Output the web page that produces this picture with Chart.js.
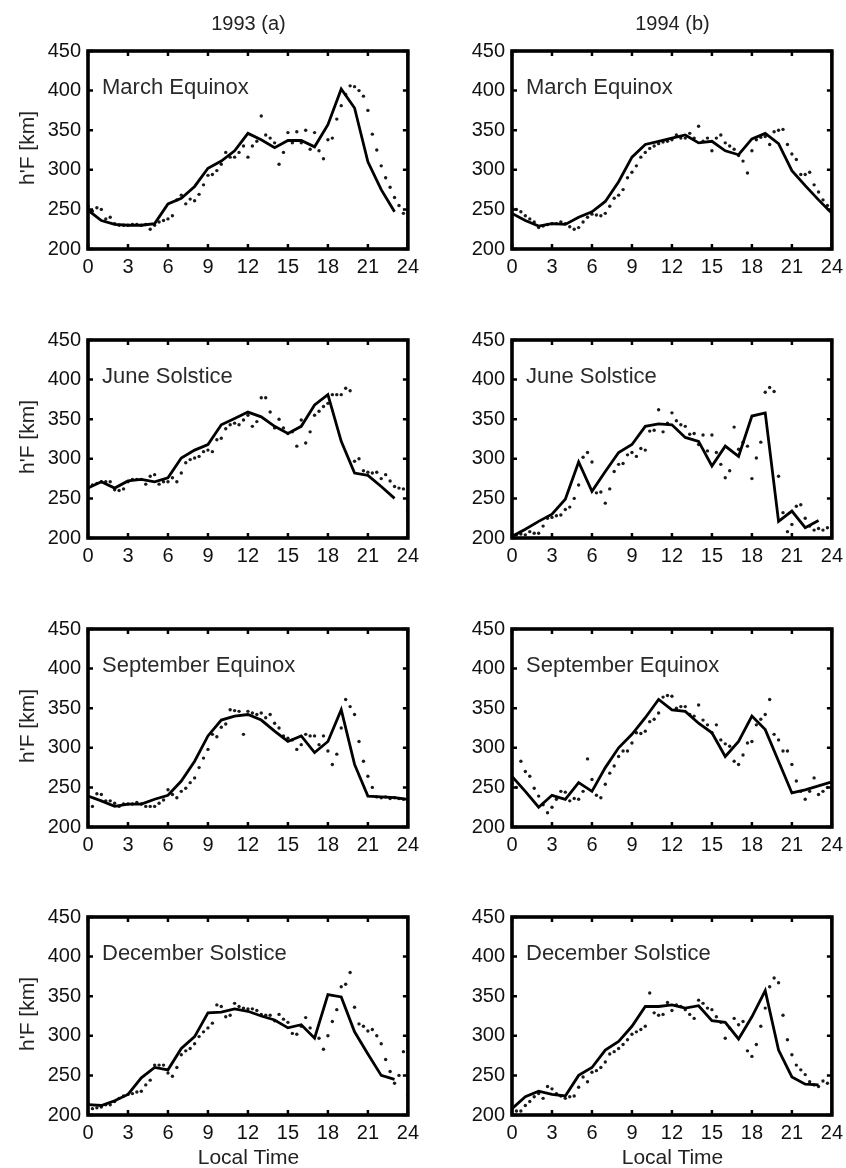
<!DOCTYPE html>
<html>
<head>
<meta charset="utf-8">
<title>h'F local time variation</title>
<script src="https://cdn.jsdelivr.net/npm/chart.js"></script>
<style>
  body { margin: 0; background: #fff; width: 846px; height: 1168px; position: relative; overflow: hidden;
         font-family: 'Liberation Sans', Arial, sans-serif; color: #222; }
  canvas { position: absolute; }
  .txt { position: absolute; white-space: nowrap; transform: translate(-50%, -50%); }
  .panel-name { position: absolute; white-space: nowrap; transform: translate(0, -50%); font-size: 22px; color: #2a2a2a; }
  .ytitle { transform: translate(-50%, -50%) rotate(-90deg); font-size: 21px; }
</style>
</head>
<body>
<script>
// hourly means (solid line), local time 0..24
var hours = [0, 1, 2, 3, 4, 5, 6, 7, 8, 9, 10, 11, 12, 13, 14, 15, 16, 17, 18, 19, 20, 21, 22, 23, 24];
var xTicks = [0, 3, 6, 9, 12, 15, 18, 21, 24];
var yTicks = [200, 250, 300, 350, 400, 450];
var yearTitles = ['1993 (a)', '1994 (b)'];
var seasonNames = ['March Equinox', 'June Solstice', 'September Equinox', 'December Solstice'];

var mar93Line = [249, 236, 231, 230, 230, 232, 257, 264, 279, 302, 311, 324, 346, 338, 328, 337, 337, 329, 357, 402, 378, 310, 275, 247, null];
var jun93Line = [263, 271, 263, 272, 274, 271, 276, 301, 311, 318, 343, 351, 359, 353, 341, 332, 341, 368, 381, 322, 282, 279, 265, 250, null];
var sep93Line = [239, 233, 226, 229, 229, 235, 240, 258, 283, 315, 335, 340, 342, 335, 321, 308, 315, 294, 308, 348, 279, 239, 238, 237, 235];
var dec93Line = [213, 212, 218, 226, 247, 260, 257, 284, 299, 329, 330, 334, 331, 325, 320, 310, 314, 297, 352, 349, 305, 277, 250, 245, null];
var mar94Line = [245, 236, 229, 232, 231, 240, 247, 260, 285, 316, 332, 336, 340, 344, 334, 336, 324, 319, 339, 346, 333, 299, 280, 262, 245];
var jun94Line = [202, 211, 221, 230, 249, 296, 259, 284, 308, 318, 341, 344, 343, 327, 322, 291, 316, 303, 354, 358, 221, 234, 213, 222, null];
var sep94Line = [264, 245, 225, 240, 235, 256, 245, 275, 300, 317, 338, 361, 348, 346, 331, 319, 289, 308, 340, 323, 283, 243, 247, 252, 257];
var dec94Line = [208, 223, 230, 226, 224, 250, 260, 282, 293, 312, 337, 337, 339, 335, 338, 319, 317, 296, 324, 357, 282, 248, 239, 238, null];

// individual observations, every 20 minutes from 00 to 24 LT (three per hour)
var dotTimes = [];
for (var i = 0; i <= 72; i++) dotTimes.push(i / 3);

var mar93Dots = [254, 248, 252, 250, 238, 240, 232, 230, 230, 230, 231, 231, 230, 231, 225, 230, 234, 236,
  238, 242, 262, 268, 257, 263, 261, 269, 281, 293, 294, 299, 307, 322, 316, 316, 322, 330,
  316, 330, 336, 368, 344, 340, 334, 307, 322, 347, 334, 348, 334, 350, 326, 347, 324, 314,
  338, 340, 364, 381, 395, 406, 405, 400, 393, 375, 345, 325, 305, 290, 278, 265, 255, 245, 232];
var jun93Dots = [263, 267, 269, 271, 271, 271, 261, 260, 262, 271, 274, 274, 274, 268, 278, 280, 268, 271,
  271, 276, 271, 282, 295, 299, 301, 303, 309, 311, 309, 324, 326, 338, 343, 345, 343, 349,
  355, 341, 347, 377, 377, 359, 339, 350, 339, 332, 334, 316, 349, 320, 334, 355, 360, 366,
  370, 381, 381, 381, 389, 386, 297, 300, 285, 283, 282, 283, 275, 280, 272, 265, 263, 262, 235];
var sep93Dots = [239, 226, 242, 241, 233, 233, 230, 226, 229, 229, 229, 231, 229, 226, 226, 226, 230, 234,
  247, 241, 237, 245, 249, 256, 262, 275, 287, 298, 317, 314, 326, 330, 348, 347, 346, 317,
  346, 344, 342, 344, 338, 342, 331, 325, 315, 312, 310, 298, 304, 317, 315, 315, 304, 315,
  296, 279, 292, 325, 361, 352, 342, 308, 283, 264, 250, 238, 237, 238, 236, 237, 236, 235, 232];
var dec93Dots = [215, 208, 209, 210, 213, 213, 217, 221, 224, 226, 227, 229, 230, 238, 244, 263, 263, 263,
  253, 249, 260, 276, 281, 284, 290, 299, 305, 310, 316, 339, 337, 324, 326, 341, 337, 335,
  334, 334, 332, 327, 326, 326, 319, 327, 321, 317, 303, 302, 312, 323, 310, 299, 297, 283,
  300, 318, 333, 362, 365, 380, 336, 315, 312, 306, 308, 300, 290, 270, 255, 240, 250, 280, 225];
var mar94Dots = [252, 250, 247, 242, 238, 234, 227, 229, 231, 232, 232, 234, 232, 228, 225, 227, 234, 240,
  244, 243, 242, 245, 254, 264, 268, 275, 290, 297, 305, 316, 322, 327, 330, 333, 335, 336,
  338, 344, 340, 340, 346, 340, 355, 336, 340, 324, 340, 344, 334, 330, 326, 318, 311, 296,
  324, 338, 341, 342, 332, 348, 350, 351, 332, 320, 313, 294, 294, 297, 281, 272, 262, 255, 245];
var jun94Dots = [203, 204, 205, 204, 208, 206, 206, 215, 225, 226, 228, 229, 236, 239, 250, 267, 302, 308,
  296, 257, 258, 244, 262, 284, 293, 294, 305, 308, 303, 313, 311, 335, 336, 362, 334, 345,
  358, 348, 343, 341, 331, 332, 318, 330, 310, 330, 308, 293, 276, 285, 340, 312, 321, 316,
  275, 301, 321, 384, 390, 385, 278, 232, 208, 217, 240, 242, 225, 215, 210, 212, 210, 213, 222];
var sep94Dots = [255, 250, 283, 270, 264, 249, 239, 228, 218, 225, 235, 245, 244, 233, 236, 235, 245, 286,
  260, 240, 237, 254, 268, 277, 289, 296, 296, 306, 319, 318, 321, 333, 336, 344, 364, 366,
  365, 350, 352, 352, 342, 340, 354, 335, 329, 319, 329, 310, 305, 302, 283, 279, 291, 306,
  308, 329, 336, 342, 361, 317, 310, 296, 296, 279, 258, 245, 235, 245, 262, 241, 245, 250, 255];
var dec94Dots = [208, 205, 205, 212, 217, 223, 227, 221, 236, 233, 227, 224, 221, 223, 224, 235, 248, 242,
  254, 256, 260, 267, 277, 280, 284, 289, 295, 302, 305, 308, 312, 354, 329, 326, 327, 342,
  332, 339, 337, 333, 327, 322, 345, 341, 335, 333, 324, 317, 297, 310, 322, 314, 318, 281,
  274, 289, 312, 335, 362, 373, 367, 326, 295, 276, 263, 257, 251, 242, 238, 236, 243, 240, 255];

var panels = [
  { row: 0, col: 0, line: mar93Line, dots: mar93Dots },
  { row: 1, col: 0, line: jun93Line, dots: jun93Dots },
  { row: 2, col: 0, line: sep93Line, dots: sep93Dots },
  { row: 3, col: 0, line: dec93Line, dots: dec93Dots },
  { row: 0, col: 1, line: mar94Line, dots: mar94Dots },
  { row: 1, col: 1, line: jun94Line, dots: jun94Dots },
  { row: 2, col: 1, line: sep94Line, dots: sep94Dots },
  { row: 3, col: 1, line: dec94Line, dots: dec94Dots }
];

// page layout (plot area corners)
var colX = [88, 512];
var rowY = [46, 335, 624, 912];
var plotW = 321, plotH = 203;
var padL = 80, padT = 14, padR = 16, padB = 34;
var fontFamily = "'Liberation Sans', Arial, sans-serif";

// heavy box around the plot with short inward tick marks
var boxFrame = {
  id: 'boxFrame',
  afterDatasetsDraw: function (chart) {
    var ctx = chart.ctx, a = chart.chartArea;
    var xs = chart.scales.x, ys = chart.scales.y;
    ctx.save();
    ctx.strokeStyle = '#000';
    ctx.lineWidth = 2.5;
    xTicks.forEach(function (v) {
      var px = xs.getPixelForValue(v);
      ctx.beginPath();
      ctx.moveTo(px, a.bottom); ctx.lineTo(px, a.bottom - 5);
      ctx.moveTo(px, a.top); ctx.lineTo(px, a.top + 5);
      ctx.stroke();
    });
    yTicks.forEach(function (v) {
      var py = ys.getPixelForValue(v);
      ctx.beginPath();
      ctx.moveTo(a.left, py); ctx.lineTo(a.left + 5, py);
      ctx.moveTo(a.right, py); ctx.lineTo(a.right - 5, py);
      ctx.stroke();
    });
    ctx.lineWidth = 3.6;
    ctx.strokeRect(a.left, a.top, a.right - a.left, a.bottom - a.top);
    ctx.restore();
  }
};

function addText(cls, text, x, y, size) {
  var d = document.createElement('div');
  d.className = cls;
  d.textContent = text;
  d.style.left = x + 'px';
  d.style.top = y + 'px';
  if (size) d.style.fontSize = size + 'px';
  document.body.appendChild(d);
  return d;
}

panels.forEach(function (p) {
  var cv = document.createElement('canvas');
  var w = padL + plotW + padR, h = padT + plotH + padB;
  cv.width = w; cv.height = h;
  cv.style.left = (colX[p.col] - padL) + 'px';
  cv.style.top = (rowY[p.row] - padT) + 'px';
  document.body.appendChild(cv);

  new Chart(cv.getContext('2d'), {
    type: 'scatter',
    data: {
      datasets: [{
        type: 'line',
        data: hours.map(function (t, i) { return { x: t, y: p.line[i] }; }),
        borderColor: '#000',
        borderWidth: 2.8,
        pointRadius: 0,
        tension: 0,
        fill: false
      }, {
        type: 'scatter',
        data: dotTimes.map(function (t, i) { return { x: t, y: p.dots[i] }; }),
        pointRadius: 1.7,
        pointBackgroundColor: '#1a1a1a',
        pointBorderWidth: 0
      }]
    },
    options: {
      responsive: false,
      animation: false,
      devicePixelRatio: 1,
      layout: { padding: { top: padT, right: padR, left: 0, bottom: 0 } },
      plugins: { legend: { display: false }, tooltip: { enabled: false } },
      scales: {
        x: {
          type: 'linear', min: 0, max: 24,
          grid: { display: false, drawTicks: false },
          border: { display: false },
          ticks: { stepSize: 3, autoSkip: false, maxRotation: 0, padding: 6, color: '#111',
                   font: { family: fontFamily, size: 20 } },
          afterFit: function (s) { s.height = padB; }
        },
        y: {
          type: 'linear', min: 200, max: 450,
          grid: { display: false, drawTicks: false },
          border: { display: false },
          ticks: { stepSize: 50, padding: 7, color: '#111',
                   font: { family: fontFamily, size: 20 } },
          afterFit: function (s) { s.width = padL; }
        }
      }
    },
    plugins: [boxFrame]
  });

  addText('panel-name', seasonNames[p.row], colX[p.col] + 14, rowY[p.row] + 41);
  if (p.col === 0) addText('txt ytitle', "h'F [km]", 27, rowY[p.row] + plotH / 2);
});

yearTitles.forEach(function (t, c) {
  addText('txt', t, colX[c] + plotW / 2, 23, 20);
});
[0, 1].forEach(function (c) {
  addText('txt', 'Local Time', colX[c] + plotW / 2, 1157, 21);
});
</script>
</body>
</html>
